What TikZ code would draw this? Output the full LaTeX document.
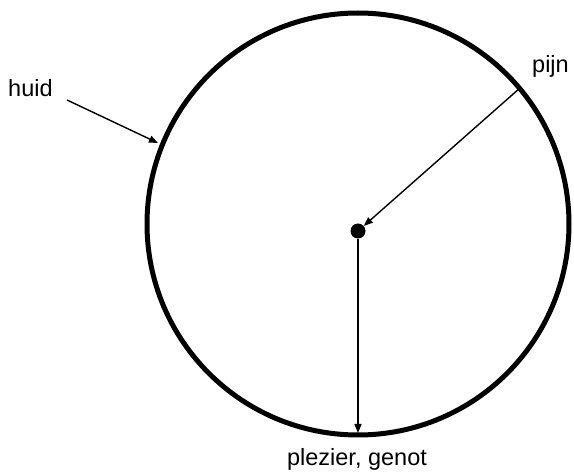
\documentclass[tikz,border=0pt]{standalone}
\usepackage{fontspec}
\setmainfont{Liberation Sans}
\usetikzlibrary{arrows.meta}
\begin{document}
\begin{tikzpicture}[x=1pt,y=-1pt,
  lab/.style={font=\fontsize{23.5}{27}\selectfont, inner sep=0pt},
  arr/.style={line width=1.4pt, -{Triangle[length=9pt,width=7pt]}}]
\useasboundingbox (0,0) rectangle (574,473);
\node[circle, draw, line width=5pt, minimum size=422pt, inner sep=0pt] (skin) at (358,224) {};
\fill (358,231) circle (7.5pt) coordinate (c);
\node[circle, minimum size=15pt, inner sep=0pt] (dot) at (358,231) {};
\coordinate (pstart) at (520,88);
\coordinate (bend) at (358,433);
\coordinate (hstart) at (67,100);
\coordinate (hend) at (158,143);
\node[lab, anchor=base west] (huid) at (8,97) {huid};
\node[lab, anchor=base west] (pijn) at (532,73) {pijn};
\node[lab, anchor=base] (plez) at (357,466) {plezier, genot};
\draw[arr] (pstart) -- (dot);
\draw[arr] (dot.south) -- (bend);
\draw[arr] (hstart) -- (hend);
\end{tikzpicture}
\end{document}
